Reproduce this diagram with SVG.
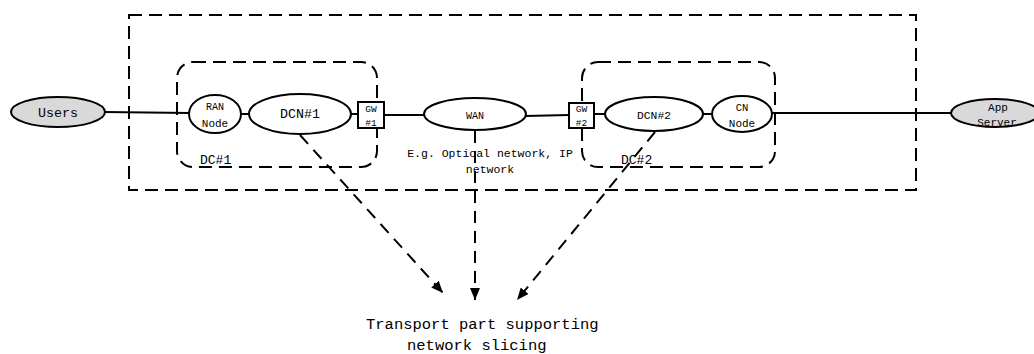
<svg xmlns="http://www.w3.org/2000/svg" width="1034" height="354" viewBox="0 0 1034 354">
  <style>
    .frame { fill: none; stroke: #000; stroke-width: 2; stroke-dasharray: 13 7; }
    .link { fill: none; stroke: #000; stroke-width: 2; }
    .ref { fill: none; stroke: #000; stroke-width: 2; stroke-dasharray: 12 8; }
    .node { fill: #fff; stroke: #000; stroke-width: 2; }
    .ext { fill: #d9d9d9; stroke: #000; stroke-width: 2; }
    text { font-family: "Liberation Mono", "DejaVu Sans Mono", monospace; fill: #000; }
    .c { text-anchor: middle; }
  </style>
  <defs>
    <marker id="arrow" viewBox="0 0 12 10" refX="12" refY="5" markerWidth="12" markerHeight="10" markerUnits="userSpaceOnUse" orient="auto">
      <path d="M0,0 L12,5 L0,10 Z" fill="#000"/>
    </marker>
  </defs>

  <!-- transport domain boundary and data centres -->
  <g id="transport-domain">
    <rect class="frame" x="129" y="15" width="787" height="175"/>
  </g>
  <g id="dc1">
    <rect class="frame" x="177" y="62" width="200" height="105" rx="16" ry="16"/>
    <text x="200" y="164" font-size="13">DC#1</text>
  </g>
  <g id="dc2">
    <rect class="frame" x="582" y="62" width="193" height="105" rx="16" ry="16"/>
    <text x="621" y="164" font-size="13">DC#2</text>
  </g>

  <!-- connectors -->
  <g id="connectors">
    <line class="link" x1="104" y1="112" x2="190" y2="113"/>
    <line class="link" x1="241" y1="114" x2="250" y2="114"/>
    <line class="link" x1="350" y1="114" x2="358" y2="114"/>
    <line class="link" x1="384" y1="115" x2="425" y2="115"/>
    <line class="link" x1="525" y1="116" x2="569" y2="115"/>
    <line class="link" x1="594" y1="114" x2="606" y2="114"/>
    <line class="link" x1="702" y1="114" x2="713" y2="114"/>
    <line class="link" x1="771" y1="113" x2="952" y2="113"/>
    <line class="ref" x1="300" y1="135" x2="443" y2="293" marker-end="url(#arrow)"/>
    <line class="ref" x1="475" y1="131" x2="475" y2="300" marker-end="url(#arrow)"/>
    <line class="ref" x1="655" y1="132" x2="517" y2="300" marker-end="url(#arrow)"/>
  </g>

  <!-- nodes -->
  <g id="users">
    <ellipse class="ext" cx="58" cy="112" rx="47" ry="15"/>
    <text class="c" x="58" y="117" font-size="13.3">Users</text>
  </g>
  <g id="ran-node">
    <ellipse class="node" cx="215" cy="114" rx="26" ry="19"/>
    <text class="c" x="215" y="110" font-size="10">RAN</text>
    <text class="c" x="215" y="127" font-size="11">Node</text>
  </g>
  <g id="dcn1">
    <ellipse class="node" cx="300" cy="114" rx="51" ry="20"/>
    <text class="c" x="300" y="118" font-size="13.3">DCN#1</text>
  </g>
  <g id="gw1">
    <rect class="node" x="358" y="102" width="26" height="26"/>
    <text class="c" x="371" y="112" font-size="9.5">GW</text>
    <text class="c" x="371" y="126" font-size="9.5">#1</text>
  </g>
  <g id="wan">
    <ellipse class="node" cx="475" cy="114" rx="51" ry="16"/>
    <text class="c" x="475" y="119" font-size="10">WAN</text>
    <text class="c" x="490" y="157" font-size="11.5">E.g. Optical network, IP</text>
    <text class="c" x="490" y="173" font-size="11.5">network</text>
  </g>
  <g id="gw2">
    <rect class="node" x="569" y="103" width="25" height="25"/>
    <text class="c" x="581.5" y="112" font-size="9.5">GW</text>
    <text class="c" x="581.5" y="126" font-size="9.5">#2</text>
  </g>
  <g id="dcn2">
    <ellipse class="node" cx="654" cy="114" rx="49" ry="17"/>
    <text class="c" x="654" y="119" font-size="11.3">DCN#2</text>
  </g>
  <g id="cn-node">
    <ellipse class="node" cx="742" cy="114" rx="30" ry="18"/>
    <text class="c" x="742" y="111" font-size="10.5">CN</text>
    <text class="c" x="742" y="127" font-size="11">Node</text>
  </g>
  <g id="app-server">
    <ellipse class="ext" cx="995" cy="113" rx="44" ry="14"/>
    <text class="c" x="998" y="111" font-size="11">App</text>
    <text class="c" x="997" y="126" font-size="11">Server</text>
  </g>

  <g id="slicing-label">
    <text x="366" y="329" font-size="15.5">Transport part supporting</text>
    <text x="407" y="350" font-size="15.5">network slicing</text>
  </g>
</svg>
